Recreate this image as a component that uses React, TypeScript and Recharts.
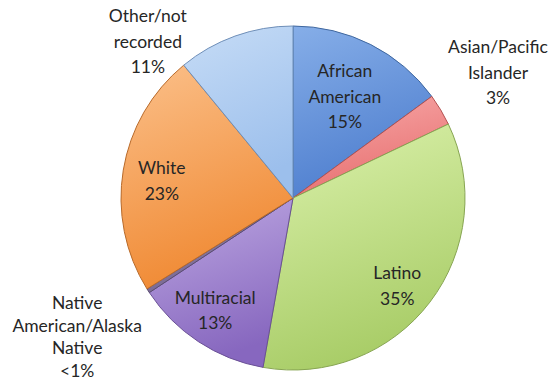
import { PieChart, Pie, Cell } from "recharts"

const groups = [
  "African American",
  "Asian/Pacific Islander",
  "Latino",
  "Multiracial",
  "Native American/Alaska Native",
  "White",
  "Other/not recorded",
]
const shares = [15, 3, 35, 13, 0.4, 23, 11]
const shareLabels = ["15%", "3%", "35%", "13%", "<1%", "23%", "11%"]
const labelLines = [
  ["African", "American"],
  ["Asian/Pacific", "Islander"],
  ["Latino"],
  ["Multiracial"],
  ["Native", "American/Alaska", "Native"],
  ["White"],
  ["Other/not", "recorded"],
]

// top / bottom gradient stops and edge colour per slice
const topColors = ["#86aee8", "#f7a7a7", "#dcf2ad", "#bfaae3", "#8f7fa8", "#fbc08a", "#c6dcf6"]
const bottomColors = ["#4f7fcf", "#e87272", "#a9cd68", "#8767bf", "#7a6a94", "#f08a34", "#9cbfec"]
const edgeColors = ["#3f679f", "#b35050", "#87a552", "#6a5096", "#5a4d70", "#b86a2a", "#6f8fb8"]

// label placement: distance as a fraction of the radius, angular nudge (deg), line gap
const labelRadius = [0.666, 1.4, 0.79, 0.79, 1.49, 0.77, 1.244]
const labelNudge = [0, 0.8, -2.6, -1.6, 0, 1.5, 23]
const labelGap = [25.5, 25.5, 25.5, 25.5, 22.5, 25.5, 25.5]

const data = groups.map((name, i) => ({ name, value: shares[i] }))
const RAD = Math.PI / 180

function renderLabel(props: any) {
  const { cx, cy, midAngle, outerRadius, index } = props
  const a = (midAngle + labelNudge[index]) * RAD
  const r = outerRadius * labelRadius[index]
  const x = cx + r * Math.cos(-a)
  const y = cy + r * Math.sin(-a)
  const lines = [...labelLines[index], shareLabels[index]]
  const gap = labelGap[index]
  const y0 = y - ((lines.length - 1) * gap) / 2
  return (
    <text
      key={index}
      x={x}
      y={y0}
      textAnchor="middle"
      dominantBaseline="central"
      fill="#262626"
      fontFamily="Lato, 'Open Sans', sans-serif"
      fontSize={17.5}
    >
      {lines.map((t, j) => (
        <tspan key={j} x={x} y={y0 + j * gap}>
          {t}
        </tspan>
      ))}
    </text>
  )
}

export default function App() {
  return (
    <div style={{ position: "absolute", left: 0, top: 0, width: 555, height: 381, background: "#fff" }}>
      <PieChart width={555} height={381} margin={{ top: 0, right: 0, bottom: 0, left: 0 }}>
        <defs>
          {groups.map((_, i) => (
            <linearGradient key={i} id={`slice${i}`} x1="0" y1="0" x2="0.3" y2="1">
              <stop offset="0%" stopColor={topColors[i]} />
              <stop offset="100%" stopColor={bottomColors[i]} />
            </linearGradient>
          ))}
        </defs>
        <Pie
          data={data}
          dataKey="value"
          nameKey="name"
          cx={293}
          cy={198}
          outerRadius={172}
          startAngle={90}
          endAngle={-270}
          label={renderLabel}
          labelLine={false}
          isAnimationActive={false}
        >
          {data.map((_, i) => (
            <Cell key={i} fill={`url(#slice${i})`} stroke={edgeColors[i]} strokeWidth={1} />
          ))}
        </Pie>
      </PieChart>
    </div>
  )
}
